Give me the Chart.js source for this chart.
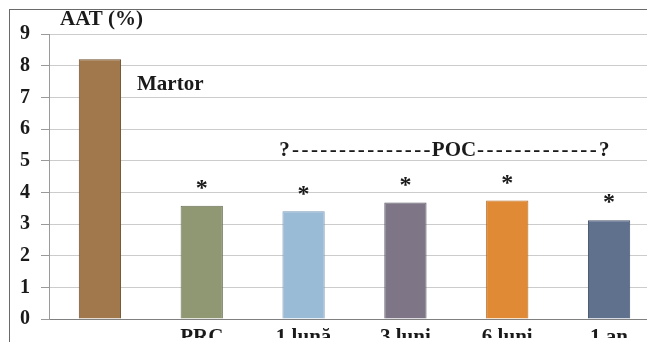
<!DOCTYPE html>
<html><head><meta charset="utf-8">
<script src="https://cdn.jsdelivr.net/npm/chart.js@4"></script>
<style>
html,body{margin:0;padding:0;width:647px;height:342px;overflow:hidden;background:#fff;}
#frame{position:absolute;left:9px;top:9px;width:700px;height:400px;border:1px solid #6a6a6a;box-sizing:border-box;}
#wrap{position:absolute;left:0;top:0;width:662px;height:342px;}
</style></head>
<body>
<div id="frame"></div>
<div id="wrap"><canvas id="c" width="662" height="342"></canvas></div>
<script>
const categories = ["", "PRC", "1 lună", "3 luni", "6 luni", "1 an"];
const values = [8.2, 3.58, 3.4, 3.68, 3.74, 3.12];
const barColors = ["#a0784b", "#8f9873", "#9abbd6", "#7e7586", "#e08a36", "#60718e"];
const barBorders = ["#6e5030", "#6a7255", "#7a9ab5", "#5e5866", "#b86a20", "#45536b"];
const starred = [false, true, true, true, true, true];
const yTicks = [0,1,2,3,4,5,6,7,8,9];

const serif = '"Liberation Serif", "Times New Roman", serif';

const annot = {
  id: 'annot',
  afterDatasetsDraw(chart) {
    const ctx = chart.ctx;
    const meta = chart.getDatasetMeta(0);
    ctx.save();
    ctx.fillStyle = '#1a1a1a';
    ctx.textBaseline = 'middle';
    ctx.font = 'bold 21px ' + serif;
    ctx.textAlign = 'left';
    ctx.fillText('AAT (%)', 60, 20);
    ctx.fillText('Martor', 137, 85);
    ctx.textAlign = 'center';
    ctx.fillText('POC', 454, 151);
    ctx.letterSpacing = '2.4px';
    ctx.textAlign = 'right';
    ctx.fillText('?---------------', 433, 151);
    ctx.textAlign = 'left';
    ctx.fillText('-------------?', 477, 151);
    ctx.letterSpacing = '0px';
    ctx.textAlign = 'center';
    ctx.font = 'bold 24px ' + serif;
    meta.data.forEach((bar, i) => {
      if (starred[i]) ctx.fillText('*', bar.x, bar.y - 17);
    });
    ctx.restore();
  }
};

new Chart(document.getElementById('c'), {
  type: 'bar',
  data: {
    labels: categories,
    datasets: [{
      data: values,
      backgroundColor: barColors,
      borderColor: barBorders,
      borderWidth: 1,
      barPercentage: 0.415,
      categoryPercentage: 1
    }]
  },
  options: {
    responsive: false,
    animation: false,
    devicePixelRatio: 1,
    layout: { padding: { top: 34, right: 2, left: 0, bottom: 0 } },
    plugins: { legend: { display: false }, tooltip: { enabled: false } },
    scales: {
      x: {
        grid: { display: false, drawTicks: false },
        border: { display: true, color: '#808080', width: 1 },
        ticks: { color: '#1a1a1a', font: { family: serif, size: 21, weight: 'bold' }, padding: 6, autoSkip: false, maxRotation: 0 },
        afterFit(s) { s.height = 19; }
      },
      y: {
        min: 0, max: 9,
        afterBuildTicks(s) { s.ticks = yTicks.map(v => ({ value: v })); },
        grid: { color: '#cccccc', lineWidth: 1, tickLength: 8, tickColor: '#9a9a9a' },
        border: { display: true, color: '#9a9a9a', width: 1 },
        ticks: { color: '#1a1a1a', font: { family: serif, size: 20, weight: 'bold' }, padding: 11 },
        afterFit(s) { s.width = 49; }
      }
    }
  },
  plugins: [annot]
});
</script>
</body></html>
